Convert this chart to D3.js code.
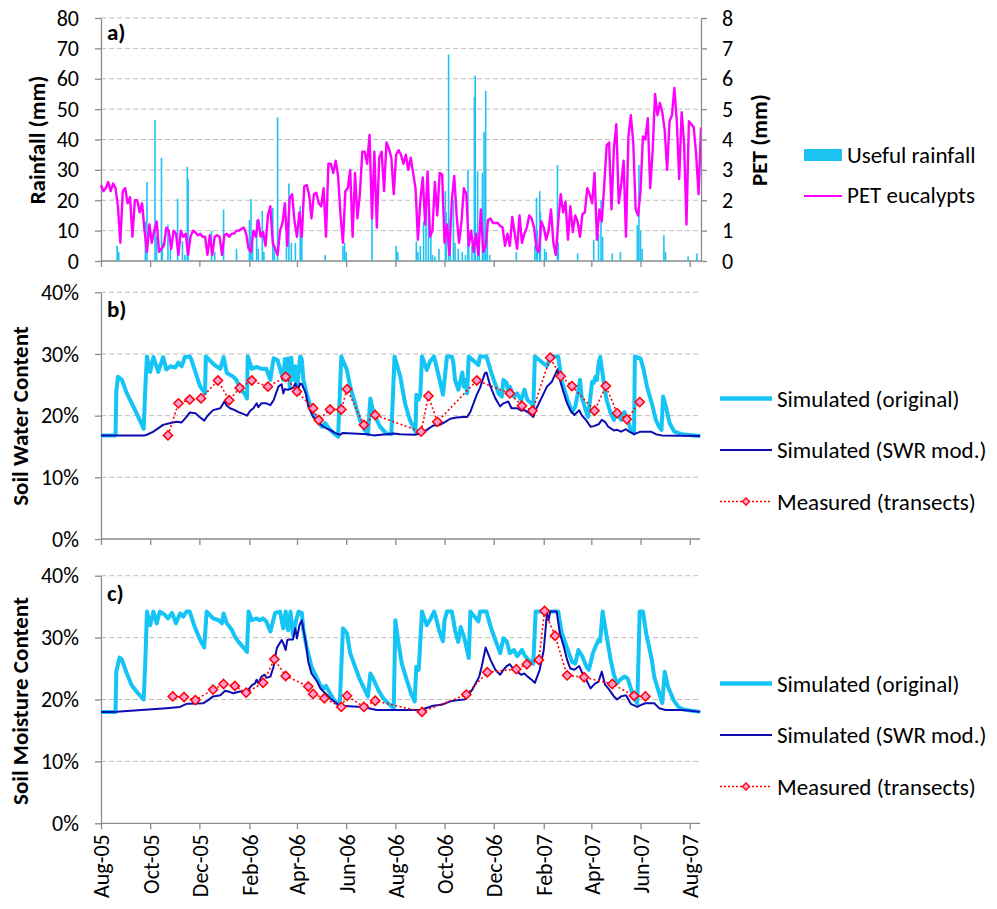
<!DOCTYPE html>
<html>
<head>
<meta charset="utf-8">
<script src="https://cdn.jsdelivr.net/npm/d3@7"></script>
<style>
  body { margin: 0; background: #fff; }
  text { font-family: Carlito, Calibri, Lato, sans-serif; fill: #000; }
</style>
</head>
<body>
<svg id="chart" width="997" height="909"></svg>
<script>
// ---- Data -------------------------------------------------------------
// Time is given as days since 1 Aug 2005.
const startDate = new Date(2005, 7, 1);
const lastDay = 744;
const monthTickLabels = ["Aug-05","Oct-05","Dec-05","Feb-06","Apr-06","Jun-06","Aug-06",
                         "Oct-06","Dec-06","Feb-07","Apr-07","Jun-07","Aug-07"];

// Useful rainfall (mm): [day, mm]
const usefulRainfall = [
  [20,5],[22,3],[55,13],[57,26],[67,46.5],[69,8],[75,34],[76,6],[83,12],[86,4],
  [95,20.5],[101,6.5],[104,2],[107,31],[108,27],[137,10],[141,3],[152,17],[168,4],
  [184,13.5],[185,8],[186,20.5],[188,6],[193,13.5],[195,4],[200,16.5],[202,3],
  [213,17.5],[215,5],[219,47.3],[230,8],[233,25.5],[236,6],[241,6],[247,18],[249,8],
  [278,2],[300,5],[302,6],[304,3],[336,14],[366,5],[368,3],[391,6.5],[393,3],[396,5],
  [400,13],[403,18],[406,18],[409,9],[411,2],[414,1.5],[419,4],[427,23],[428,16],
  [431,68],[433,14],[437,20],[439,6],[443,4],[448,3],[452,2],[455,30],[456,10],[460,5],
  [463,54],[464,61],[467,29.5],[469,6],[473,29],[475,42.5],[477,56],[479,8],[482,2],
  [515,3],[538,5],[540,20.8],[541,10],[544,23],[545,16],[550,4],[552,3],[566,31.6],
  [567,6],[591,2.5],[611,7],[617,9],[620,20],[622,8],[634,2.5],[644,3],[665,11.8],
  [667,31.6],[669,10],[671,4],[698,8.5],[700,3],[728,1.5],[739,2.5]
];

// PET eucalypts (mm), one value every 3 days from day 0
const petStepDays = 3;
const petEucalypts = [
  2.5,2.3,2.4,2.6,2.3,2.55,2.4,1.8,0.6,2.3,
  2.4,1.9,2.1,0.8,2.0,2.0,1.6,1.9,1.0,0.3,
  1.2,0.6,1.0,1.3,0.3,0.4,0.5,1.1,1.0,0.4,
  1.0,0.9,0.2,1.0,0.8,0.9,0.2,0.8,1.0,0.95,
  0.85,0.9,0.8,0.8,0.2,0.85,0.2,0.8,0.85,0.8,
  0.2,0.85,0.9,0.8,0.9,0.9,1.0,1.0,1.05,1.1,
  0.9,0.4,0.3,1.0,0.8,1.35,0.8,0.95,0.5,1.5,
  1.8,0.6,0.4,0.2,1.0,1.25,1.9,0.5,2.06,2.2,
  1.3,0.8,1.6,0.8,2.45,2.5,2.2,1.4,2.2,2.25,
  1.9,1.8,2.4,0.8,3.2,3.2,2.9,3.3,2.8,1.5,
  0.6,2.3,2.4,3.0,0.8,2.9,1.4,2.2,3.6,3.6,
  3.2,4.15,1.4,3.6,1.1,3.4,3.6,2.3,3.9,3.7,
  3.4,2.2,3.5,3.65,3.5,3.2,3.5,3.0,3.4,2.9,
  2.4,0.7,2.0,2.75,1.2,2.95,0.8,1.0,2.6,1.5,
  2.9,2.85,0.6,1.2,0.2,2.0,2.8,1.5,0.6,1.3,
  2.4,2.2,0.5,1.0,0.3,0.9,0.2,1.7,0.3,0.5,
  1.35,1.4,1.25,1.25,1.25,1.15,1.1,0.5,0.9,0.5,
  1.45,0.9,0.4,1.5,0.6,0.9,1.1,1.5,1.4,1.1,
  0.4,0.3,1.3,1.1,0.7,1.0,1.7,0.6,0.2,1.3,
  2.2,1.6,1.95,0.7,1.8,0.95,1.5,1.3,0.8,1.55,
  1.6,2.4,2.2,1.9,2.9,0.7,1.7,1.3,2.5,3.8,
  3.9,1.7,3.7,4.5,1.9,2.5,3.3,0.8,4.1,4.8,
  3.9,1.7,1.5,2.3,4.1,4.0,4.7,2.4,3.6,5.5,
  4.8,5.2,4.9,4.3,3.0,4.6,4.8,5.7,4.6,2.7,
  4.9,3.9,1.2,4.6,4.5,4.4,3.5,2.2,4.4
];

// Soil water content (%): [day, value]
const swcOriginal = [
  [0,16.8],[18,16.8],[19,23.9],[21,26.3],[26,25.8],[32,23.6],[40,21.5],[48,19.3],[53,17.9],
  [55,24.7],[57,29.6],[61,27.1],[65,29.5],[71,27.1],[77,29.5],[81,27.5],[86,28.0],[92,27.8],
  [96,28.6],[100,28.0],[104,29.5],[110,29.6],[112,29.1],[119,26.3],[123,24.7],[129,23.6],
  [130,29.6],[141,28.2],[148,27.6],[152,29.5],[156,26.9],[164,26.3],[168,25.8],[172,24.4],
  [179,23.4],[181,22.8],[182,29.6],[187,27.6],[193,27.9],[199,27.6],[205,27.6],[210,25.8],
  [214,29.3],[219,29.0],[226,25.8],[228,29.2],[230,25.8],[232,29.3],[234,24.7],[236,29.4],
  [238,25.8],[241,28.0],[243,24.2],[247,29.6],[249,29.1],[251,25.8],[255,23.6],[261,20.9],
  [267,19.3],[274,18.2],[278,18.8],[284,17.7],[290,17.0],[294,16.6],[298,29.6],[305,27.4],
  [309,24.7],[315,22.0],[321,19.3],[327,17.7],[331,17.0],[334,22.8],[338,20.4],[346,18.2],
  [354,17.1],[360,17.0],[364,29.6],[371,26.4],[377,22.0],[383,19.3],[390,17.4],[391,23.4],
  [394,22.6],[396,23.4],[398,29.6],[404,27.4],[408,28.8],[413,29.6],[415,28.5],[419,26.3],
  [424,23.4],[426,25.8],[429,29.6],[435,29.6],[437,28.5],[439,25.8],[443,24.2],[446,25.8],
  [448,27.0],[450,24.7],[452,25.8],[454,23.6],[456,29.6],[468,28.2],[470,29.6],[478,29.6],
  [483,27.4],[487,25.8],[493,23.6],[497,23.1],[499,25.8],[503,25.3],[505,23.6],[507,24.7],
  [512,23.1],[516,23.6],[521,22.5],[525,24.2],[529,22.5],[534,22.0],[536,21.2],[538,29.6],
  [553,28.0],[557,29.6],[567,29.6],[571,25.8],[576,23.6],[580,22.0],[584,20.6],[588,21.4],
  [592,24.2],[594,25.8],[596,23.1],[601,20.9],[604,19.8],[609,25.5],[611,25.3],[613,26.3],
  [615,25.8],[617,28.5],[619,29.5],[623,25.8],[627,22.5],[632,20.4],[636,19.3],[640,20.4],
  [645,19.3],[649,20.6],[653,19.3],[657,17.7],[661,17.1],[662,29.6],[669,29.3],[673,27.4],
  [677,24.7],[684,21.5],[688,19.3],[692,18.2],[695,17.7],[697,23.1],[701,21.2],[705,18.8],
  [711,17.4],[720,17.0],[743,16.7]
];
const swcSWR = [
  [0,16.8],[54,16.8],[57,16.9],[65,17.4],[77,18.5],[86,18.8],[94,19.0],[100,18.9],[106,19.8],
  [110,20.5],[117,20.4],[123,19.7],[128,19.2],[133,20.1],[139,20.9],[148,21.2],[153,22.3],
  [156,21.6],[160,21.2],[166,20.9],[170,20.6],[174,20.4],[181,20.0],[185,20.8],[189,21.2],
  [193,22.0],[195,21.4],[199,22.0],[205,22.0],[210,21.7],[214,22.5],[220,24.7],[224,25.1],
  [226,23.6],[228,24.3],[232,24.2],[238,24.5],[241,25.2],[244,24.2],[247,25.2],[249,25.1],
  [254,23.6],[257,21.5],[263,19.8],[270,18.8],[276,18.2],[280,17.9],[284,17.7],[290,17.2],
  [296,16.9],[300,17.2],[330,17.0],[338,16.8],[363,17.1],[371,17.0],[389,16.9],[398,17.2],
  [404,17.7],[412,18.4],[420,18.5],[427,19.0],[433,19.5],[441,19.7],[449,19.8],[454,19.8],
  [458,20.6],[466,23.4],[470,24.5],[476,26.9],[478,27.0],[483,24.7],[489,22.8],[495,21.5],
  [499,22.0],[505,22.3],[509,21.2],[516,21.2],[521,20.8],[525,20.9],[530,20.5],[536,19.8],
  [540,21.2],[546,22.8],[553,24.7],[559,25.5],[563,26.6],[566,27.5],[569,25.8],[574,23.6],
  [578,22.0],[582,20.9],[587,20.1],[593,20.9],[596,20.1],[602,19.2],[607,18.2],[611,18.3],
  [617,18.6],[621,19.3],[625,19.0],[629,18.2],[636,17.6],[640,17.7],[645,17.4],[651,17.8],
  [655,17.4],[661,17.0],[669,17.4],[682,17.4],[688,17.0],[695,16.8],[743,16.7]
];
const swcMeasured = [
  [83,16.8],[96,22.0],[110,22.6],[124,22.8],[145,25.7],[159,22.5],[172,24.5],[187,25.7],
  [207,24.7],[229,26.3],[243,23.9],[263,21.2],[270,19.3],[284,21.0],[298,21.0],[305,24.3],
  [326,18.5],[340,20.1],[397,17.4],[406,23.2],[417,19.0],[466,25.7],[507,23.6],[522,21.6],
  [535,20.8],[557,29.4],[570,26.4],[584,24.8],[612,20.8],[626,24.8],[640,20.4],[652,19.4],
  [668,22.2]
];

// Soil moisture content (%): [day, value]
const smcOriginal = [
  [0,18.0],[18,18.0],[19,24.5],[23,26.8],[26,26.4],[32,24.2],[38,22.3],[44,21.3],[50,20.4],
  [53,20.0],[55,26.4],[57,34.2],[61,32.0],[65,34.2],[69,32.3],[73,34.2],[79,33.7],[83,33.1],
  [88,34.0],[93,32.3],[98,33.9],[102,33.4],[106,34.2],[110,34.2],[116,31.8],[123,29.6],
  [128,28.4],[131,34.2],[139,33.1],[146,32.8],[150,32.3],[152,33.9],[156,32.3],[162,31.3],
  [166,30.2],[170,29.4],[176,28.5],[181,27.7],[183,34.2],[187,32.8],[193,33.1],[197,32.8],
  [201,33.1],[205,32.6],[210,31.0],[216,34.0],[222,34.2],[226,31.5],[229,34.2],[232,31.2],
  [235,34.2],[238,30.4],[242,32.8],[245,34.2],[249,34.0],[251,31.2],[255,28.5],[261,25.3],
  [268,23.4],[272,22.3],[276,21.8],[279,22.2],[284,21.0],[290,19.7],[296,19.0],[300,31.5],
  [305,30.7],[309,27.5],[315,25.3],[321,23.2],[327,21.6],[331,20.5],[334,24.2],[338,23.2],
  [344,21.5],[350,20.2],[356,19.4],[363,18.6],[365,32.8],[369,29.0],[373,25.8],[379,23.2],
  [385,20.8],[389,19.7],[391,25.3],[394,24.8],[398,34.2],[404,32.0],[409,33.1],[413,34.2],
  [415,33.4],[419,31.3],[424,29.4],[426,32.8],[429,34.2],[435,34.2],[437,32.8],[439,31.2],
  [443,29.3],[446,31.7],[450,30.2],[452,29.1],[456,26.7],[458,34.2],[468,32.6],[470,34.2],
  [478,34.2],[483,31.8],[489,29.6],[495,27.5],[499,29.9],[503,29.4],[507,27.5],[512,28.0],
  [516,27.0],[522,28.0],[525,27.2],[530,26.4],[536,25.8],[539,34.2],[567,34.2],[571,30.9],
  [578,28.3],[584,26.1],[588,25.8],[592,28.0],[597,26.9],[602,25.3],[605,24.8],[610,27.5],
  [614,28.8],[617,29.6],[619,29.4],[622,34.2],[627,30.2],[632,26.4],[636,24.0],[640,22.6],
  [644,23.2],[649,23.7],[653,23.4],[657,21.8],[661,20.2],[665,19.4],[668,34.2],[672,34.2],
  [676,30.7],[683,26.4],[686,23.7],[691,21.5],[696,19.4],[699,24.5],[703,22.1],[710,19.9],
  [716,18.8],[722,18.4],[743,18.0]
];
const smcSWR = [
  [0,18.0],[15,18.0],[81,18.6],[98,18.8],[106,19.3],[110,19.3],[127,19.4],[133,19.9],
  [139,20.5],[148,20.7],[154,21.4],[160,21.2],[164,21.0],[172,21.3],[181,21.3],[187,22.3],
  [191,22.6],[193,23.2],[195,22.6],[199,23.7],[203,24.0],[205,23.5],[210,23.7],[214,25.3],
  [218,28.3],[224,29.6],[226,29.1],[229,28.0],[231,29.6],[234,29.7],[238,29.7],[241,31.5],
  [243,29.9],[246,32.0],[249,32.8],[254,29.1],[257,26.1],[261,24.2],[268,22.9],[272,21.8],
  [278,21.0],[284,20.2],[292,19.4],[296,19.0],[325,18.8],[342,18.3],[371,18.3],[396,18.3],
  [412,19.0],[424,19.2],[433,19.7],[443,19.9],[451,20.0],[460,21.5],[469,23.7],[472,25.3],
  [477,28.4],[483,26.4],[489,24.8],[495,24.0],[499,24.8],[503,25.4],[507,25.7],[512,24.8],
  [516,24.5],[521,24.0],[525,24.2],[529,23.7],[534,23.2],[538,22.7],[544,24.8],[549,28.0],
  [553,33.9],[555,32.8],[557,34.2],[565,34.2],[569,30.7],[574,28.5],[578,26.4],[582,25.0],
  [587,24.8],[593,25.4],[596,24.5],[602,23.1],[607,21.8],[613,22.6],[617,22.9],[621,24.5],
  [625,22.4],[629,21.8],[636,20.5],[640,20.0],[645,20.5],[651,20.7],[657,19.3],[665,18.8],
  [669,19.1],[675,19.4],[686,19.4],[692,18.6],[700,18.3],[722,18.3],[743,18.0]
];
const smcMeasured = [
  [89,20.5],[103,20.4],[117,19.9],[139,21.6],[152,22.5],[166,22.2],[180,21.1],[201,22.7],
  [215,26.5],[229,23.8],[257,22.1],[263,20.9],[277,20.2],[298,18.8],[305,20.6],[326,18.8],
  [340,19.8],[398,18.0],[453,20.8],[479,24.4],[515,24.9],[528,25.7],[543,26.4],[550,34.3],
  [563,30.3],[578,23.9],[599,23.6],[634,22.5],[661,20.6],[675,20.5]
];

// ---- Styles -----------------------------------------------------------
const C = {
  axis: "#8a8a8a", grid: "#bdbdbd", rain: "#1ec3f2", pet: "#ff00ff",
  orig: "#14c4f5", swr: "#0c0cb2", meas: "#ff0000", measFill: "#ff9ad8"
};
const FS = 23;     // legend and title size
const TFS = 22;    // tick label size

const svg = d3.select("#chart");
const day = d => d3.timeDay.offset(startDate, d);
const x = d3.scaleTime().domain([startDate, day(lastDay)]).range([101, 701]);
// one tick every second month, starting at the first month
const monthTicks = monthTickLabels.map((_, i) => d3.timeMonth.offset(startDate, 2 * i));

function grid(g, y, vals, x1) {
  g.selectAll(null).data(vals.filter(v => v > 0)).join("line")
    .attr("x1", 101).attr("x2", x1).attr("y1", d => y(d)).attr("y2", d => y(d))
    .attr("stroke", C.grid).attr("stroke-width", 1).attr("stroke-dasharray", "5,3");
}

function styleAxis(g) {
  g.select(".domain").attr("stroke", C.axis).attr("stroke-width", 1.3);
  g.selectAll(".tick line").attr("stroke", C.axis).attr("stroke-width", 1.3);
  g.selectAll(".tick text").style("font-size", TFS + "px").attr("fill", "#000");
}

function panel(opts) {
  const g = svg.append("g");
  const y = opts.y;
  grid(g, y, opts.ticks, opts.x1);
  // left axis
  const ax = g.append("g").attr("transform", "translate(101,0)")
    .call(d3.axisLeft(y).tickValues(opts.ticks).tickSize(6).tickPadding(16)
      .tickSizeOuter(0).tickFormat(opts.fmt));
  styleAxis(ax);
  // bottom axis
  const bx = g.append("g").attr("transform", `translate(0,${y(0)})`)
    .call(d3.axisBottom(x).tickValues(monthTicks).tickSize(6).tickSizeOuter(0)
      .tickFormat(opts.labels ? ((d, i) => monthTickLabels[i]) : ""));
  bx.select(".domain").attr("d", `M101,0H${opts.x1}`);
  styleAxis(bx);
  if (opts.labels) {
    bx.selectAll(".tick text")
      .attr("transform", "rotate(-90)")
      .attr("text-anchor", "end")
      .attr("x", -11).attr("y", 0).attr("dy", "0.36em");
  }
  // panel letter
  g.append("text").attr("x", 107).attr("y", opts.letterY)
    .style("font-size", FS + "px").style("font-weight", "bold").text(opts.letter);
  // axis title
  g.append("text").attr("transform", `translate(${opts.titleX},${opts.titleY}) rotate(-90)`)
    .attr("text-anchor", "middle").style("font-size", FS + "px").style("font-weight", "bold")
    .text(opts.title);
  return g;
}

// ---- Panel a: rainfall and PET ----------------------------------------
const yRain = d3.scaleLinear().domain([0, 80]).range([261, 18]);
const yPet = d3.scaleLinear().domain([0, 8]).range([261, 18]);
const ga = panel({ y: yRain, ticks: d3.range(0, 81, 10), fmt: d3.format("d"), x1: 701,
  letter: "a)", letterY: 40, title: "Rainfall (mm)", titleX: 45, titleY: 140 });

ga.append("g").selectAll("rect").data(usefulRainfall).join("rect")
  .attr("x", d => x(day(d[0])) - 0.8).attr("width", 1.6)
  .attr("y", d => yRain(d[1])).attr("height", d => yRain(0) - yRain(d[1]))
  .attr("fill", C.rain);

const petSeries = petEucalypts.map((v, i) => [i * petStepDays, v]);
ga.append("path").datum(petSeries)
  .attr("d", d3.line().x(d => x(day(d[0]))).y(d => yPet(d[1])))
  .attr("fill", "none").attr("stroke", C.pet).attr("stroke-width", 2.4)
  .attr("stroke-linejoin", "round");

const rAx = ga.append("g").attr("transform", "translate(701,0)")
  .call(d3.axisRight(yPet).tickValues(d3.range(0, 9)).tickSize(6).tickPadding(15)
    .tickSizeOuter(0).tickFormat(d3.format("d")));
styleAxis(rAx);
ga.append("text").attr("transform", "translate(767,140) rotate(-90)")
  .attr("text-anchor", "middle").style("font-size", FS + "px").style("font-weight", "bold")
  .text("PET (mm)");

// legend a
ga.append("rect").attr("x", 804).attr("y", 149).attr("width", 38).attr("height", 12)
  .attr("fill", C.rain);
ga.append("text").attr("x", 847).attr("y", 163).style("font-size", FS + "px").text("Useful rainfall");
ga.append("line").attr("x1", 804).attr("x2", 842).attr("y1", 196).attr("y2", 196)
  .attr("stroke", C.pet).attr("stroke-width", 2);
ga.append("text").attr("x", 847).attr("y", 203).style("font-size", FS + "px").text("PET eucalypts");

// ---- Panels b and c ---------------------------------------------------
const diamond = r => `M0,${-r}L${r},0L0,${r}L${-r},0Z`;

function moisturePanel(o) {
  const y = d3.scaleLinear().domain([0, 40]).range([o.y0, o.y40]);
  const g = panel({ y, ticks: d3.range(0, 41, 10), fmt: d => d + "%", x1: 700,
    letter: o.letter, letterY: o.letterY, title: o.title, titleX: 28, titleY: o.titleY,
    labels: o.labels });
  const line = d3.line().x(d => x(day(d[0]))).y(d => y(d[1]));
  g.append("path").datum(o.orig).attr("d", line).attr("fill", "none")
    .attr("stroke", C.orig).attr("stroke-width", 4).attr("stroke-linejoin", "round");
  g.append("path").datum(o.swr).attr("d", line).attr("fill", "none")
    .attr("stroke", C.swr).attr("stroke-width", 2).attr("stroke-linejoin", "round");
  g.append("path").datum(o.meas).attr("d", line).attr("fill", "none")
    .attr("stroke", C.meas).attr("stroke-width", 1.6).attr("stroke-dasharray", "2,2.4");
  g.append("g").selectAll("path").data(o.meas).join("path")
    .attr("transform", d => `translate(${x(day(d[0]))},${y(d[1])})`)
    .attr("d", diamond(4.6)).attr("fill", C.measFill).attr("stroke", C.meas).attr("stroke-width", 1.5);

  // legend
  const ly = o.legendY;
  const items = [
    { label: "Simulated (original)", stroke: C.orig, w: 4.5 },
    { label: "Simulated (SWR mod.)", stroke: C.swr, w: 2 },
    { label: "Measured (transects)", stroke: C.meas, w: 1.5, dash: "2,2", marker: true }
  ];
  items.forEach((it, i) => {
    const yy = ly + i * 51.5;
    g.append("line").attr("x1", 720).attr("x2", 772).attr("y1", yy).attr("y2", yy)
      .attr("stroke", it.stroke).attr("stroke-width", it.w)
      .attr("stroke-dasharray", it.dash || null);
    if (it.marker) {
      g.append("path").attr("transform", `translate(746,${yy})`).attr("d", diamond(3.6))
        .attr("fill", C.measFill).attr("stroke", C.meas).attr("stroke-width", 1.3);
    }
    g.append("text").attr("x", 777).attr("y", yy + 8).style("font-size", FS + "px").text(it.label);
  });
}

moisturePanel({ y0: 539, y40: 292.3, letter: "b)", letterY: 317, title: "Soil Water Content",
  titleY: 416, orig: swcOriginal, swr: swcSWR, meas: swcMeasured, legendY: 398.5 });
moisturePanel({ y0: 823.3, y40: 575.7, letter: "c)", letterY: 601, title: "Soil Moisture Content",
  titleY: 701, orig: smcOriginal, swr: smcSWR, meas: smcMeasured, legendY: 683.5, labels: true });
</script>
</body>
</html>
